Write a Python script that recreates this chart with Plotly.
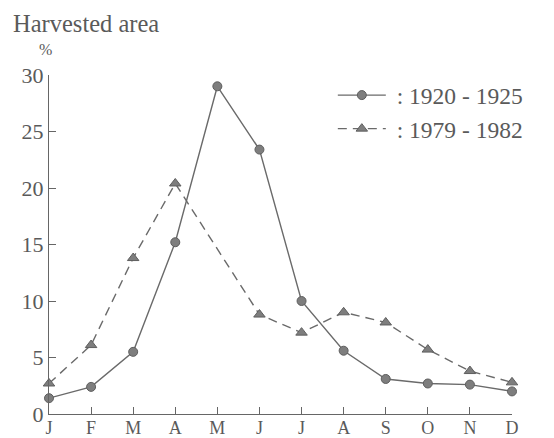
import plotly.graph_objects as go

months = ["J", "F", "M", "A", "M", "J", "J", "A", "S", "O", "N", "D"]
x_idx = list(range(12))
series_1920 = [1.4, 2.4, 5.5, 15.2, 29.0, 23.4, 10.0, 5.6, 3.1, 2.7, 2.6, 2.0]
series_1979 = [2.7, 6.1, 13.8, 20.4, None, 8.8, 7.2, 9.0, 8.1, 5.7, 3.8, 2.8]
y_ticks = [0, 5, 10, 15, 20, 25, 30]

FONT = "Liberation Serif"
GRAY = "#5a5a5a"
NB = "\u00a0"

fig = go.Figure()
fig.add_trace(go.Scatter(
    x=x_idx, y=series_1920, mode="lines+markers", name=NB * 1 + ": 1920 - 1925",
    line=dict(color="#6a6a6a", width=1.4),
    marker=dict(symbol="circle", size=9, color="#7e7e7e",
                line=dict(color="#5e5e5e", width=1)),
    cliponaxis=False,
))
fig.add_trace(go.Scatter(
    x=x_idx, y=series_1979, mode="lines+markers", name=NB * 1 + ": 1979 - 1982",
    connectgaps=True,
    line=dict(color="#6a6a6a", width=1.4, dash="9px,6px"),
    marker=dict(symbol="triangle-up", size=10, color="#7e7e7e",
                line=dict(color="#5e5e5e", width=1)),
    cliponaxis=False,
))

fig.update_layout(
    width=546, height=430,
    margin=dict(l=41, r=42, t=67, b=24, pad=0),
    paper_bgcolor="white", plot_bgcolor="white",
    font=dict(family=FONT, color=GRAY, size=20),
    showlegend=True,
    legend=dict(x=0.613, y=1.005, xanchor="left", yanchor="top",
                bgcolor="rgba(0,0,0,0)", font=dict(size=23.5, family=FONT, color=GRAY),
                itemwidth=48),
    xaxis=dict(
        range=[0, 11], tickmode="array", tickvals=x_idx, ticktext=months,
        showgrid=False, zeroline=False, showline=True, linecolor="#666666",
        linewidth=1, ticks="inside", ticklen=7, tickcolor="#666666",
        tickfont=dict(size=18, family=FONT, color=GRAY), automargin=False,
        ticklabelstandoff=-3,
    ),
    yaxis=dict(
        range=[0, 30], tickmode="array", tickvals=y_ticks,
        showgrid=False, zeroline=False, showline=True, linecolor="#666666",
        linewidth=1, ticks="inside", ticklen=7, tickcolor="#666666",
        tickfont=dict(size=22, family=FONT, color=GRAY), automargin=False,
    ),
    annotations=[
        dict(text="Harvested area", xref="paper", yref="paper",
             x=-0.082, y=1.153, xanchor="left", yanchor="middle",
             showarrow=False, font=dict(size=24.5, family=FONT, color=GRAY)),
        dict(text="%", xref="paper", yref="paper",
             x=-0.026, y=1.075, xanchor="left", yanchor="middle",
             showarrow=False, font=dict(size=16, family=FONT, color=GRAY)),
    ],
)

fig.write_html("out.html")
